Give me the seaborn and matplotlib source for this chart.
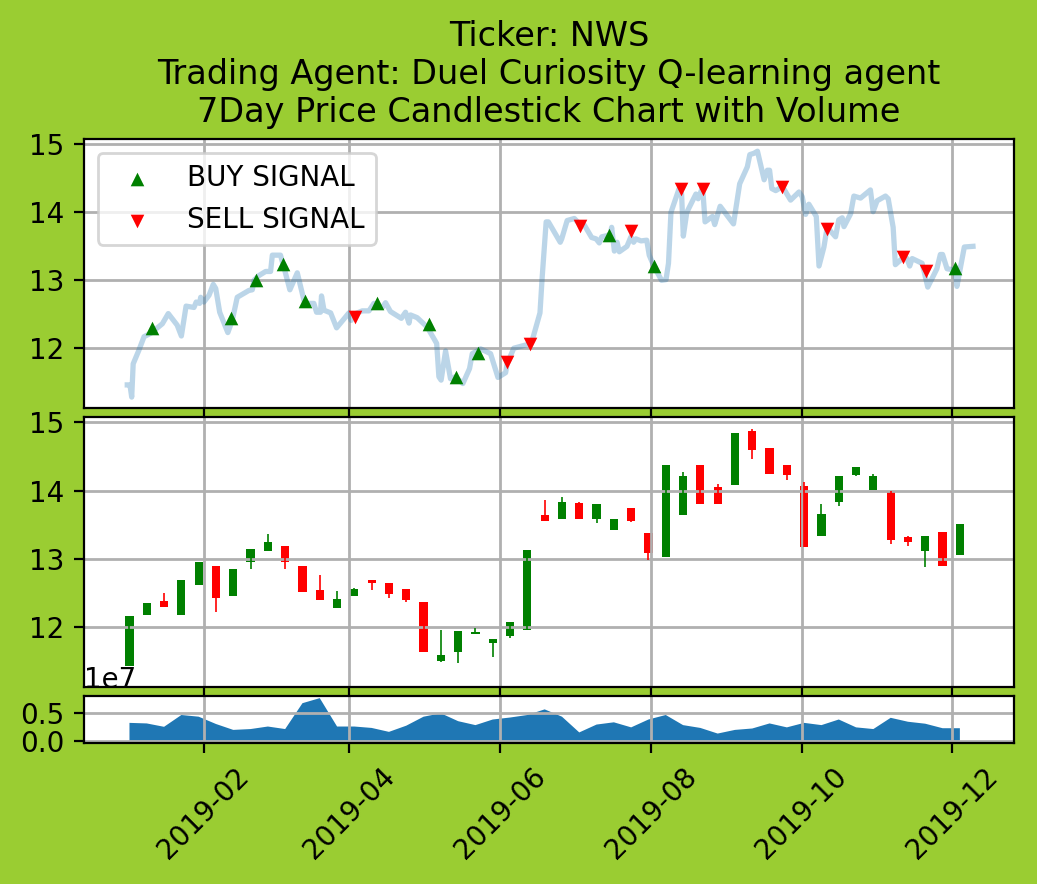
#%%
import numpy as np
import pandas as pd
import matplotlib
matplotlib.use('Agg')
import matplotlib.pyplot as plt
import matplotlib.dates as mdates
from matplotlib.ticker import ScalarFormatter
import seaborn as sns

#%% data
title = 'Ticker: NWS\nTrading Agent: Duel Curiosity Q-learning agent\n7Day Price Candlestick Chart with Volume'

# daily price line, x is days after 2019-01-01
price_days = [0.1, 1.2, 1.9, 2.5, 4.8, 6.9, 9.6, 14.3, 16.7, 20.3, 22.0, 23.9, 27.1, 28.0, 29.4, 29.8, 31.1, 33.2,
              34.9, 35.9, 37.5, 40.8, 42.6, 44.6, 49.3, 50.7, 51.4, 53.4, 56.1, 58.1, 58.8, 62.1, 63.8, 65.9, 68.9,
              71.9, 75.6, 76.7, 78.3, 78.7, 79.7, 82.4, 84.8, 89.8, 90.7, 92.5, 95.2, 97.9, 99.9, 103.3, 104.6,
              106.6, 111.0, 112.7, 114.1, 114.7, 117.4, 121.5, 124.2, 125.3, 126.2, 127.1, 128.9, 130.9, 132.9,
              135.9, 138.6, 139.7, 143.1, 147.1, 150.1, 153.2, 153.8, 156.5, 162.6, 164.0, 167.1, 168.0, 169.6,
              170.5, 175.3, 175.9, 178.1, 181.0, 183.1, 185.1, 188.0, 189.8, 191.1, 192.1, 194.5, 195.6, 196.1,
              197.2, 198.3, 199.2, 202.3, 203.9, 205.0, 205.9, 208.0, 210.3, 211.3, 213.3, 216.3, 218.1, 219.1,
              220.1, 223.4, 224.4, 225.1, 226.5, 230.2, 231.1, 232.9, 233.9, 236.9, 237.8, 240.0, 245.4, 247.9,
              251.0, 252.0, 253.7, 255.1, 257.8, 259.1, 260.0, 260.9, 262.5, 265.2, 268.5, 271.9, 273.2, 274.6,
              275.9, 278.9, 280.0, 282.0, 283.3, 286.7, 288.0, 289.4, 290.1, 292.8, 294.1, 296.8, 300.8, 301.9,
              303.5, 306.9, 308.0, 310.0, 310.9, 313.6, 315.6, 316.7, 317.7, 321.7, 322.4, 324.0, 327.7, 329.1,
              330.0, 331.8, 335.1, 335.8, 338.8, 342.3]
price_values = [11.46, 11.46, 11.28, 11.77, 11.97, 12.17, 12.22, 12.36, 12.51, 12.34, 12.18, 12.62, 12.60, 12.68,
                12.66, 12.75, 12.68, 12.78, 12.94, 12.88, 12.53, 12.23, 12.41, 12.75, 12.85, 12.86, 13.00, 13.07,
                13.13, 13.13, 13.37, 13.37, 13.15, 12.86, 13.11, 12.66, 12.66, 12.53, 12.53, 12.77, 12.56, 12.52,
                12.30, 12.52, 12.41, 12.51, 12.55, 12.55, 12.66, 12.60, 12.67, 12.54, 12.44, 12.53, 12.37, 12.49,
                12.45, 12.31, 12.14, 12.07, 11.58, 11.53, 11.96, 11.55, 11.58, 11.48, 11.70, 11.92, 11.99, 11.92,
                11.57, 11.64, 11.77, 12.00, 12.06, 12.12, 12.52, 13.05, 13.86, 13.86, 13.56, 13.61, 13.88, 13.91,
                13.83, 13.81, 13.63, 13.61, 13.55, 13.64, 13.66, 13.69, 13.78, 13.43, 13.56, 13.42, 13.50, 13.64,
                13.56, 13.61, 13.58, 13.59, 13.37, 13.20, 13.00, 13.01, 13.25, 14.00, 14.35, 14.27, 13.65, 14.00,
                14.27, 14.20, 14.37, 13.86, 13.94, 13.82, 14.09, 13.83, 14.42, 14.67, 14.85, 14.87, 14.90, 14.48,
                14.62, 14.62, 14.35, 14.32, 14.38, 14.18, 14.30, 14.23, 13.97, 14.12, 13.94, 13.21, 13.49, 13.78,
                13.64, 13.89, 13.92, 13.79, 13.98, 14.24, 14.21, 14.33, 14.01, 14.17, 14.24, 14.20, 13.78, 13.23,
                13.32, 13.32, 13.21, 13.32, 13.25, 13.15, 12.90, 13.17, 13.38, 13.38, 13.17, 13.15, 12.91, 13.49,
                13.50]

buy_days = [10.1, 42.2, 52.2, 63.1, 72.0, 101.1, 122.2, 133.2, 142.0, 195.2, 213.3, 334.9]
buy_values = [12.30, 12.45, 13.01, 13.24, 12.69, 12.66, 12.35, 11.57, 11.93, 13.66, 13.21, 13.18]
sell_days = [92.1, 153.9, 163.0, 183.1, 204.1, 224.2, 233.1, 265.0, 283.2, 313.9, 323.2]
sell_values = [12.46, 11.80, 12.06, 13.80, 13.72, 14.35, 14.35, 14.38, 13.75, 13.34, 13.13]

# weekly candles
opens = [11.43, 12.17, 12.38, 12.17, 12.62, 12.90, 12.46, 12.95, 13.11, 13.19, 12.90, 12.54, 12.28, 12.45, 12.69,
         12.65, 12.56, 12.37, 11.50, 11.64, 11.89, 11.77, 11.87, 11.96, 13.65, 13.59, 13.82, 13.58, 13.42, 13.75,
         13.38, 13.02, 13.64, 14.38, 14.06, 14.08, 14.88, 14.62, 14.38, 14.07, 13.34, 13.84, 14.23, 14.01, 13.99,
         13.32, 13.12, 13.40, 13.05]
closes = [12.16, 12.35, 12.30, 12.69, 12.96, 12.43, 12.85, 13.15, 13.25, 12.95, 12.52, 12.39, 12.41, 12.56, 12.64,
          12.49, 12.39, 11.64, 11.59, 11.94, 11.93, 11.82, 12.07, 13.13, 13.55, 13.84, 13.59, 13.81, 13.59, 13.56,
          13.09, 14.38, 14.21, 13.80, 13.81, 14.85, 14.59, 14.24, 14.23, 13.18, 13.66, 14.21, 14.35, 14.21, 13.28,
          13.25, 13.34, 12.89, 13.51]
highs = [12.16, 12.35, 12.50, 12.69, 12.96, 12.90, 12.85, 13.15, 13.37, 13.19, 12.90, 12.76, 12.53, 12.57, 12.69,
         12.65, 12.56, 12.37, 11.96, 11.94, 11.99, 11.82, 12.07, 13.13, 13.86, 13.90, 13.83, 13.81, 13.59, 13.75,
         13.38, 14.38, 14.27, 14.38, 14.10, 14.85, 14.90, 14.62, 14.38, 14.12, 13.81, 14.21, 14.35, 14.24, 13.99,
         13.34, 13.34, 13.40, 13.51]
lows = [11.43, 12.17, 12.30, 12.17, 12.62, 12.22, 12.46, 12.85, 13.11, 12.85, 12.52, 12.39, 12.28, 12.45, 12.54,
        12.43, 12.37, 11.64, 11.49, 11.47, 11.89, 11.56, 11.84, 11.96, 13.55, 13.59, 13.59, 13.53, 13.42, 13.54,
        12.98, 13.02, 13.64, 13.80, 13.81, 14.08, 14.47, 14.24, 14.16, 13.18, 13.34, 13.78, 14.21, 14.01, 13.22,
        13.19, 12.88, 12.89, 13.05]
volumes = [0.32, 0.31, 0.25, 0.46, 0.43, 0.30, 0.195, 0.21, 0.255, 0.21, 0.67, 0.76, 0.255, 0.255, 0.23, 0.16, 0.27,
           0.43, 0.49, 0.35, 0.28, 0.38, 0.415, 0.46, 0.56, 0.43, 0.15, 0.29, 0.33, 0.24, 0.38, 0.46, 0.28, 0.23,
           0.13, 0.195, 0.22, 0.31, 0.24, 0.32, 0.28, 0.38, 0.24, 0.21, 0.41, 0.34, 0.305, 0.225, 0.225]

#%%
start = pd.Timestamp('2019-01-01')
to_dates = lambda d: start + pd.to_timedelta(d, unit='D')
price_dates = to_dates(np.array(price_days))
week_dates = pd.date_range('2019-01-02', periods=len(opens), freq='7D')

opens = np.array(opens)
closes = np.array(closes)
up = closes >= opens

W, H = 1037, 884
fig = plt.figure(figsize=(W / 200, H / 200), dpi=200, facecolor='yellowgreen')
ax1 = fig.add_axes([84 / W, 1 - 408 / H, 930 / W, 269 / H])
ax2 = fig.add_axes([84 / W, 1 - 687 / H, 930 / W, 270 / H], sharex=ax1, sharey=ax1)
ax3 = fig.add_axes([84 / W, 1 - 743 / H, 930 / W, 47 / H], sharex=ax1)

#%% price line and signals
sns.lineplot(x=price_dates, y=price_values, color='C0', alpha=0.3, linewidth=1.9, errorbar=None, ax=ax1)
sns.scatterplot(x=to_dates(np.array(buy_days)), y=buy_values, marker='^', color='g', s=24, linewidth=0,
                label='BUY SIGNAL', zorder=3, ax=ax1)
sns.scatterplot(x=to_dates(np.array(sell_days)), y=sell_values, marker='v', color='r', s=24, linewidth=0,
                label='SELL SIGNAL', zorder=3, ax=ax1)
ax1.legend(loc='upper left')
ax1.set_title(title, fontsize=12.05)

#%% candles, bodies stay under the grid and wicks go over it
colors = np.where(up, 'g', 'r')
body_low = np.minimum(opens, closes)
ax2.bar(week_dates, np.abs(closes - opens), bottom=body_low, width=3.3, color=colors)
ax2.vlines(week_dates, lows, highs, colors=colors, linewidth=0.6, zorder=2)

#%% volume
ax3.fill_between(week_dates, np.array(volumes) * 1e7)

for ax in (ax1, ax2, ax3):
    ax.grid(True, linewidth=1.0)
    ax.set_xlabel('')
    ax.set_ylabel('')
ax1.set_xlim(to_dates(-17.4), to_dates(358.9))
ax1.set_ylim(11.12, 15.08)
ax1.set_yticks([12, 13, 14, 15])
ax3.set_yticks([0, 0.5e7])
vol_fmt = ScalarFormatter(useMathText=False)
vol_fmt.set_powerlimits((7, 7))
ax3.yaxis.set_major_formatter(vol_fmt)
ax3.xaxis.set_major_locator(mdates.MonthLocator(bymonth=[2, 4, 6, 8, 10, 12]))
ax3.xaxis.set_major_formatter(mdates.DateFormatter('%Y-%m'))
ax1.tick_params(labelbottom=False)
ax2.tick_params(labelbottom=False)
plt.setp(ax3.get_xticklabels(), rotation=45)

fig.savefig('out.png', dpi=200, facecolor=fig.get_facecolor())
